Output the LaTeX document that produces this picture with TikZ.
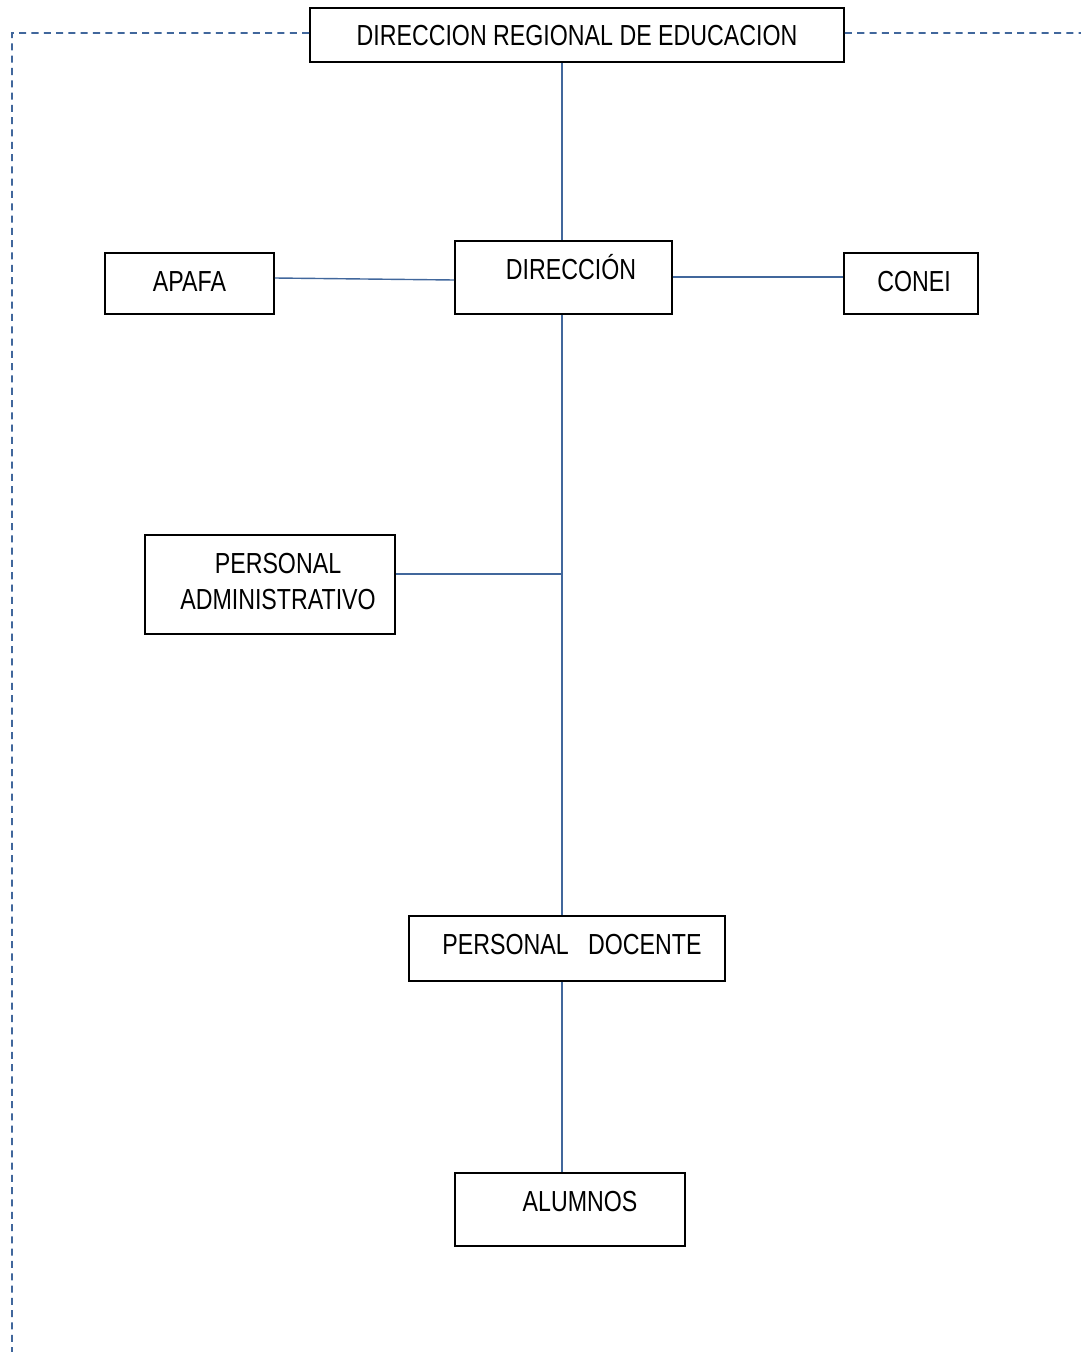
\documentclass[tikz,border=0pt]{standalone}
\usepackage{fontspec}
\setmainfont{Liberation Sans}[FakeStretch=0.8]
\usetikzlibrary{calc}
\definecolor{linkblue}{HTML}{41679C}

\begin{document}
\begin{tikzpicture}[
    x=0.02cm, y=-0.02cm,
    box/.style={rectangle, draw=black, line width=1.1pt, inner sep=0pt, font=\fontsize{16.5}{21}\selectfont},
    txt/.style={font=\fontsize{16.5}{21}\selectfont, inner sep=0pt, text height=11.8pt, text depth=0pt},
    link/.style={draw=linkblue, line width=0.8pt},
    dashlink/.style={draw=linkblue, line width=1pt, dash pattern=on 4pt off 3pt},
]
\useasboundingbox (0,0) rectangle (1081,1352);

% boxes
\node[box, minimum width=10.68cm, minimum height=1.08cm] (dre) at (577,35) {};
\node[txt] at (dre.center) {DIRECCION REGIONAL DE EDUCACION};

\node[box, minimum width=4.34cm, minimum height=1.46cm] (direc) at (563.5,277.5) {};
\node[txt] at ([xshift=0.15cm, yshift=0.17cm]direc.center) {DIRECCIÓN};

\node[box, minimum width=3.38cm, minimum height=1.22cm] (apafa) at (189.5,283.5) {};
\node[txt] at ([yshift=0.05cm]apafa.center) {APAFA};

\node[box, minimum width=2.68cm, minimum height=1.22cm] (conei) at (911,283.5) {};
\node[txt] at ([xshift=0.06cm, yshift=0.05cm]conei.center) {CONEI};

\node[box, minimum width=5cm, minimum height=1.98cm] (admin) at (270,584.5) {};
\node[font=\fontsize{16.5}{21}\selectfont, align=center, inner sep=0pt]
    at ([xshift=0.16cm, yshift=0.06cm]admin.center) {PERSONAL\\ADMINISTRATIVO};

\node[box, minimum width=6.32cm, minimum height=1.3cm] (docente) at (567,948.5) {};
\node[txt] at ([xshift=0.1cm, yshift=0.09cm]docente.center) {PERSONAL\ \ \ DOCENTE};

\node[box, minimum width=4.6cm, minimum height=1.46cm] (alumnos) at (570,1209.5) {};
\node[txt] at ([xshift=0.2cm, yshift=0.17cm]alumnos.center) {ALUMNOS};

% connectors
\draw[link] (direc.north -| 562,0) -- (dre.south -| 562,0);
\draw[link] ([yshift=0.11cm]apafa.east) -- ([yshift=-0.05cm]direc.west);
\draw[link] ([yshift=0.01cm]direc.east) -- ([yshift=0.01cm]direc.east -| conei.west);
\draw[link] (direc.south -| 562,0) -- (docente.north -| 562,0);
\coordinate (junc) at (562,574);
\draw[link] (admin.east |- junc) -- (junc);
\draw[link] (docente.south -| 562,0) -- (alumnos.north -| 562,0);

% dashed frame
\draw[dashlink] ([yshift=0.04cm]dre.west) -- (12,33) -- (12,1352);
\draw[dashlink] ([yshift=0.04cm]dre.east) -- (1081,33);
\end{tikzpicture}
\end{document}
